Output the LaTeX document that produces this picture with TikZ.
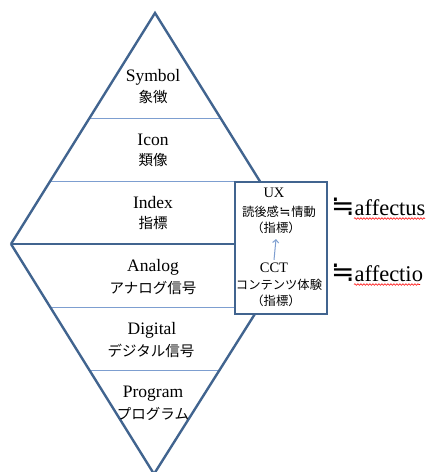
\documentclass[tikz,border=0pt]{standalone}
\usepackage{fontspec}
\setmainfont{Liberation Serif}
\newfontfamily\jp{Noto Sans CJK JP}
\newfontfamily\symf{DejaVu Sans}
\usetikzlibrary{decorations.pathmorphing,arrows.meta}
\definecolor{edgeblue}{HTML}{41648F}
\definecolor{thinblue}{HTML}{7D9ED0}
\begin{document}
\begin{tikzpicture}[x=1pt,y=-1pt,
  heavy/.style={draw=edgeblue,line width=2.4pt,line join=miter},
  thin/.style={draw=thinblue,line width=1pt},
  lat/.style={inner sep=0pt,font=\fontsize{17.5}{17.5}\selectfont},
  cjk/.style={inner sep=0pt,font=\jp\fontsize{14.5}{14.5}\selectfont},
  blat/.style={inner sep=0pt,font=\fontsize{14.5}{14.5}\selectfont},
  bcjk/.style={inner sep=0pt,font=\jp\fontsize{12.3}{12.3}\selectfont},
  aff/.style={inner sep=0pt,anchor=base west,font=\fontsize{22.5}{22.5}\selectfont},
  squig/.style={draw=red,line width=0.6pt,decorate,decoration={snake,amplitude=0.8pt,segment length=3pt}}]
\useasboundingbox (0,0) rectangle (428,472);
% geometry
\coordinate (T) at (155,13);
\coordinate (L) at (11,244);
\coordinate (R) at (299,244);
\coordinate (B) at (154,474);
% thin separators
\draw[thin] (89.5,118) -- (220.5,118);
\draw[thin] (50,181) -- (236,181);
\draw[thin] (50,307) -- (236,307);
\draw[thin] (89.5,370) -- (218.5,370);
% diamond
\draw[heavy] (L) -- (T) -- (R);
\draw[heavy] (L) -- (B) -- (R);
\draw[heavy] (L) -- (R);
% box
\draw[draw=edgeblue,line width=2.8pt,fill=white] (235,182) rectangle (327,314);
% triangle labels
\node[lat] (sym) at (153,77) {Symbol};
\node[cjk] (symj) at (153,97) {象徴};
\node[lat] (ico) at (153,140) {Icon};
\node[cjk] (icoj) at (153,160) {類像};
\node[lat] (idx) at (153,203) {Index};
\node[cjk] (idxj) at (153,223) {指標};
\node[lat] (ana) at (153,267) {Analog};
\node[cjk] (anaj) at (153,288) {アナログ信号};
\node[lat] (dig) at (152,330) {Digital};
\node[cjk] (digj) at (151,351) {デジタル信号};
\node[lat] (prg) at (153,394) {Program};
\node[cjk] (prgj) at (153,414) {プログラム};
% box labels
\node[blat] (ux) at (274,193) {UX};
\node[bcjk] (ux2) at (279,212) {読後感\kern0.5pt{\symf\fontsize{13.5}{13.5}\selectfont ≒}\kern0.5pt情動};
\node[bcjk] (ux3) at (276,228) {（指標）};
\node[blat] (cct) at (274,268) {CCT};
\node[bcjk] (cct2) at (279,285) {コンテンツ体験};
\node[bcjk] (cct3) at (276,301) {（指標）};
\draw[thin,-{Straight Barb[length=3pt,width=6pt]}] ([yshift=3pt]cct.north) -- ([yshift=-5pt]ux3.south);
% right side
\node[aff] (a1) at (331,215) {{\symf\fontsize{28}{28}\selectfont ≒}affectus};
\node[aff] (a2) at (331,281) {{\symf\fontsize{28}{28}\selectfont ≒}affectio};
\draw[squig] (354,218.5) -- (425,218.5);
\draw[squig] (354,284.5) -- (420,284.5);
\end{tikzpicture}
\end{document}
